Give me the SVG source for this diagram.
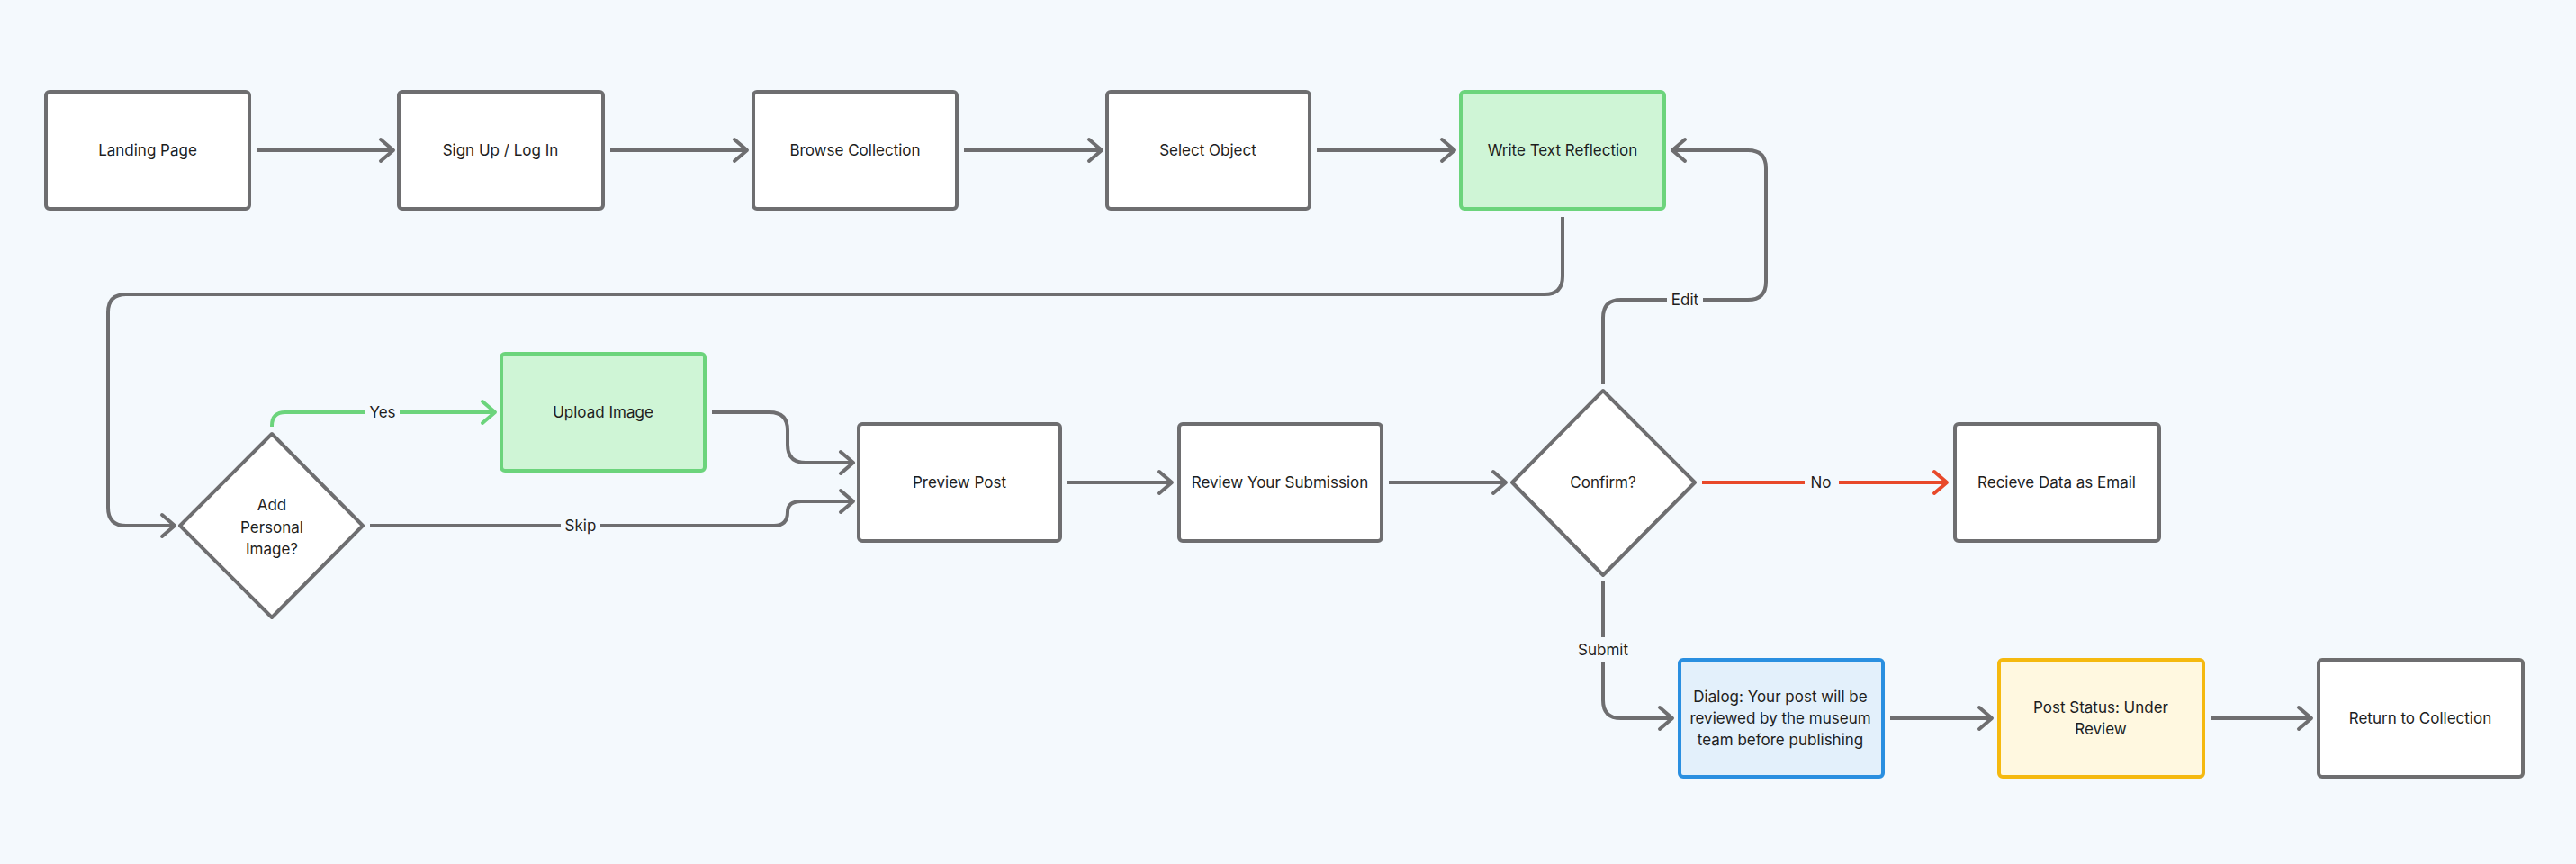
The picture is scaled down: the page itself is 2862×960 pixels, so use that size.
<svg xmlns="http://www.w3.org/2000/svg" width="2862" height="960" viewBox="0 0 2862 960">
<defs>
<marker id="ah" viewBox="0 0 20 30" refX="17" refY="15" markerWidth="20" markerHeight="30" markerUnits="userSpaceOnUse" orient="auto"><path d="M3,3 L17,15 L3,27" fill="none" stroke="#6e6e70" stroke-width="4" stroke-linecap="round" stroke-linejoin="round"/></marker>
<marker id="ahg" viewBox="0 0 20 30" refX="17" refY="15" markerWidth="20" markerHeight="30" markerUnits="userSpaceOnUse" orient="auto"><path d="M3,3 L17,15 L3,27" fill="none" stroke="#6cd47c" stroke-width="4" stroke-linecap="round" stroke-linejoin="round"/></marker>
<marker id="ahr" viewBox="0 0 20 30" refX="17" refY="15" markerWidth="20" markerHeight="30" markerUnits="userSpaceOnUse" orient="auto"><path d="M3,3 L17,15 L3,27" fill="none" stroke="#e8492a" stroke-width="4" stroke-linecap="round" stroke-linejoin="round"/></marker>
</defs>
<style>
.n{fill:#fff;stroke:#6e6e70;stroke-width:4}
.g{fill:#cff5d6;stroke:#6cd47c}
.b{fill:#e3f0fb;stroke:#2a8fe0}
.y{fill:#fff8e0;stroke:#f5b90f}
text{font-family:Inter,"Liberation Sans",sans-serif;font-size:17px;fill:#1e1e1e;text-anchor:middle;dominant-baseline:central}
.c{fill:none;stroke:#6e6e70;stroke-width:4;marker-end:url(#ah)}
.cg{fill:none;stroke:#6cd47c;stroke-width:4;marker-end:url(#ahg)}
.cr{fill:none;stroke:#e8492a;stroke-width:4;marker-end:url(#ahr)}
.lb{fill:#f4f9fd}
</style>
<rect width="2862" height="960" fill="#f4f9fd"/>
<g id="connectors">
<path class="c" d="M285,167 H437"/>
<path class="c" d="M678,167 H830"/>
<path class="c" d="M1071,167 H1224"/>
<path class="c" d="M1463,167 H1616"/>
<path class="c" d="M1736,241 V307 Q1736,327 1716,327 H140 Q120,327 120,347 V564 Q120,584 140,584 H194"/>
<path class="cg" d="M302,474 V473 Q302,458 317,458 H550"/>
<path class="c" d="M791,458 H855 Q875,458 875,478 V494 Q875,514 895,514 H948"/>
<path class="c" d="M411,584 H860 Q875,584 875,569 Q875,557 890,557 H948"/>
<path class="c" d="M1186,536 H1302"/>
<path class="c" d="M1543,536 H1673"/>
<path class="c" d="M1781,427 V353 Q1781,333 1801,333 H1942 Q1962,333 1962,313 V187 Q1962,167 1942,167 H1858"/>
<path class="cr" d="M1891,536 H2163"/>
<path class="c" d="M1781,646 V778 Q1781,798 1801,798 H1858"/>
<path class="c" d="M2100,798 H2213"/>
<path class="c" d="M2456,798 H2568"/>
<rect class="lb" x="406" y="446" width="38" height="24"/>
<text x="425" y="458">Yes</text>
<rect class="lb" x="623" y="572" width="44" height="24"/>
<text x="645" y="584">Skip</text>
<rect class="lb" x="1852" y="321" width="40" height="24"/>
<text x="1872" y="333">Edit</text>
<rect class="lb" x="2005" y="524" width="38" height="24"/>
<text x="2023" y="536">No</text>
<rect class="lb" x="1748" y="708" width="66" height="28"/>
<text x="1781" y="722">Submit</text>
</g>
<g id="landing"><rect class="n" x="51" y="102" width="226" height="130" rx="4"/><text x="164" y="167">Landing Page</text></g>
<g id="signup"><rect class="n" x="443" y="102" width="227" height="130" rx="4"/><text x="556" y="167">Sign Up / Log In</text></g>
<g id="browse"><rect class="n" x="837" y="102" width="226" height="130" rx="4"/><text x="950" y="167">Browse Collection</text></g>
<g id="select"><rect class="n" x="1230" y="102" width="225" height="130" rx="4"/><text x="1342" y="167">Select Object</text></g>
<g id="write"><rect class="n g" x="1623" y="102" width="226" height="130" rx="4"/><text x="1736" y="167">Write Text Reflection</text></g>
<g id="addimage"><path class="n" d="M302,482 L403,584 L302,686 L200,584 Z" stroke-linejoin="round"/><text x="302" y="561">Add</text><text x="302" y="586">Personal</text><text x="302" y="610">Image?</text></g>
<g id="upload"><rect class="n g" x="557" y="393" width="226" height="130" rx="4"/><text x="670" y="458">Upload Image</text></g>
<g id="preview"><rect class="n" x="954" y="471" width="224" height="130" rx="4"/><text x="1066" y="536">Preview Post</text></g>
<g id="review"><rect class="n" x="1310" y="471" width="225" height="130" rx="4"/><text x="1422" y="536">Review Your Submission</text></g>
<g id="confirm"><path class="n" d="M1781,434 L1883,536 L1781,639 L1680,536 Z" stroke-linejoin="round"/><text x="1781" y="536">Confirm?</text></g>
<g id="email"><rect class="n" x="2172" y="471" width="227" height="130" rx="4"/><text x="2285" y="536">Recieve Data as Email</text></g>
<g id="dialog"><rect class="n b" x="1866" y="733" width="226" height="130" rx="4"/><text x="1978" y="774">Dialog: Your post will be</text><text x="1978" y="798">reviewed by the museum</text><text x="1978" y="822">team before publishing</text></g>
<g id="status"><rect class="n y" x="2221" y="733" width="227" height="130" rx="4"/><text x="2334" y="786">Post Status: Under</text><text x="2334" y="810">Review</text></g>
<g id="return"><rect class="n" x="2576" y="733" width="227" height="130" rx="4"/><text x="2689" y="798">Return to Collection</text></g>
</svg>
